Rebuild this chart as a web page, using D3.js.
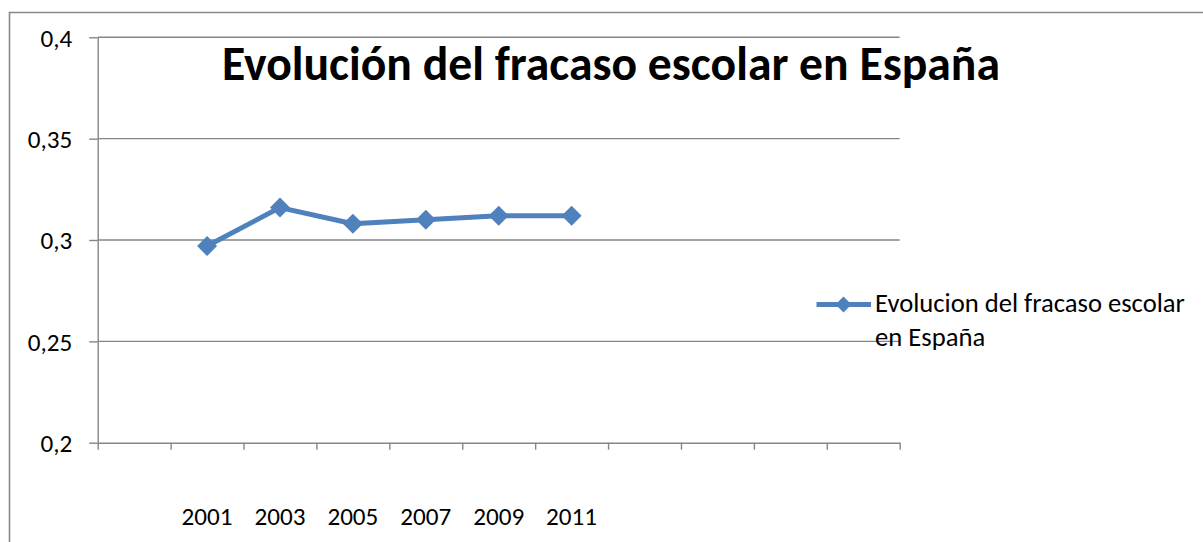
<!DOCTYPE html>
<html>
<head>
<meta charset="utf-8">
<script src="https://cdn.jsdelivr.net/npm/d3@7"></script>
<style>
  html, body { margin: 0; padding: 0; background: #fff; }
  svg { display: block; }
  text { font-family: Carlito, Calibri, Lato, sans-serif; fill: #000; }
</style>
</head>
<body>
<svg id="chart" width="1203" height="542"></svg>
<script>
// ---- data ----
const title = "Evolución del fracaso escolar en España";
const seriesName = "Evolucion del fracaso escolar en España";
const categories = ["", "2001", "2003", "2005", "2007", "2009", "2011", "", "", "", ""];
const years = ["2001", "2003", "2005", "2007", "2009", "2011"];
const values = [0.297, 0.316, 0.308, 0.310, 0.312, 0.312];
const yTicks = [0.2, 0.25, 0.3, 0.35, 0.4];
const yTickLabels = ["0,2", "0,25", "0,3", "0,35", "0,4"];

// ---- layout ----
const svg = d3.select("#chart");
const pLeft = 97.7, pRight = 899.7, pTop = 37.3, pBottom = 442.7;
const gridColor = "#868686";
const lineColor = "#4F81BD";
const FONT = "Carlito, Calibri, Lato, sans-serif";

// measure label font size so that "2001" is ~51px wide
const probe = svg.append("text").attr("font-size", 22).attr("font-family", FONT).text("2001");
const labelFs = 22 * 51 / probe.node().getComputedTextLength();
probe.remove();

// outer frame
svg.append("path")
  .attr("d", `M9.5,545 L9.5,12.5 L1210,12.5`)
  .attr("fill", "none").attr("stroke", "#888").attr("stroke-width", 1.6);

const x = d3.scaleBand().domain(d3.range(categories.length)).range([pLeft, pRight]).padding(0);
const xEdge = d3.scaleLinear().domain([0, categories.length]).range([pLeft, pRight]);
const y = d3.scaleLinear().domain([0.2, 0.4]).range([pBottom, pTop]);

// gridlines
svg.append("g").selectAll("line").data(yTicks.filter(v => v !== 0.2)).join("line")
  .attr("x1", pLeft).attr("x2", pRight)
  .attr("y1", d => y(d)).attr("y2", d => y(d))
  .attr("stroke", gridColor).attr("stroke-width", 1.4);

// y axis
const yAxis = d3.axisLeft(y).tickValues(yTicks)
  .tickFormat(d => yTickLabels[yTicks.indexOf(d)])
  .tickSize(8.5).tickSizeOuter(0).tickPadding(17);
const gy = svg.append("g").attr("transform", `translate(${pLeft},0)`).call(yAxis)
  .attr("font-family", FONT).attr("font-size", labelFs);
gy.select(".domain").attr("stroke", gridColor).attr("stroke-width", 1.4);
gy.selectAll(".tick line").attr("stroke", gridColor).attr("stroke-width", 1.4);
gy.selectAll(".tick text").attr("dy", "0.35em").attr("fill", "#000");

// x axis (tick marks between categories)
const xAxis = d3.axisBottom(xEdge).tickValues(d3.range(categories.length + 1))
  .tickFormat("").tickSize(7).tickSizeOuter(0);
const gx = svg.append("g").attr("transform", `translate(0,${pBottom})`).call(xAxis);
gx.select(".domain").attr("stroke", gridColor).attr("stroke-width", 1.4);
gx.selectAll(".tick line").attr("stroke", gridColor).attr("stroke-width", 1.4);

// category labels
svg.append("g").selectAll("text").data(categories.map((c, i) => ({ c, i })).filter(d => d.c !== "")).join("text")
  .attr("x", d => x(d.i) + x.bandwidth() / 2)
  .attr("y", 525)
  .attr("text-anchor", "middle")
  .attr("font-size", labelFs)
  .text(d => d.c);

// series
const pts = years.map((yr, k) => ({ i: categories.indexOf(yr), v: values[k] }));
const line = d3.line().x(d => x(d.i) + x.bandwidth() / 2).y(d => y(d.v));
svg.append("path").datum(pts).attr("d", line)
  .attr("fill", "none").attr("stroke", lineColor).attr("stroke-width", 5)
  .attr("stroke-linejoin", "round");

const diamond = (cx, cy, r) => `M${cx},${cy - r} L${cx + r},${cy} L${cx},${cy + r} L${cx - r},${cy} Z`;
svg.append("g").selectAll("path").data(pts).join("path")
  .attr("d", d => diamond(x(d.i) + x.bandwidth() / 2, y(d.v), 10))
  .attr("fill", lineColor);

// title
const t = svg.append("text")
  .attr("x", 611).attr("y", 80)
  .attr("text-anchor", "middle")
  .attr("font-weight", "bold")
  .attr("font-size", 40)
  .text(title);
const tw = t.node().getComputedTextLength();
t.attr("font-size", 40 * 778 / tw);

// legend
const lg = svg.append("g");
lg.append("line").attr("x1", 816.5).attr("x2", 871).attr("y1", 304.5).attr("y2", 304.5)
  .attr("stroke", lineColor).attr("stroke-width", 5);
lg.append("path").attr("d", diamond(843.5, 304.5, 8)).attr("fill", lineColor);
const words = seriesName.split(" ");
const line1 = words.slice(0, 4).join(" ");
const line2 = words.slice(4).join(" ");
const l1 = lg.append("text").attr("x", 875).attr("y", 312).attr("font-size", 22).text(line1);
const lw = l1.node().getComputedTextLength();
const fs = 22 * 310 / lw;
l1.attr("font-size", fs);
lg.append("text").attr("x", 875).attr("y", 346).attr("font-size", fs).text(line2);
</script>
</body>
</html>
